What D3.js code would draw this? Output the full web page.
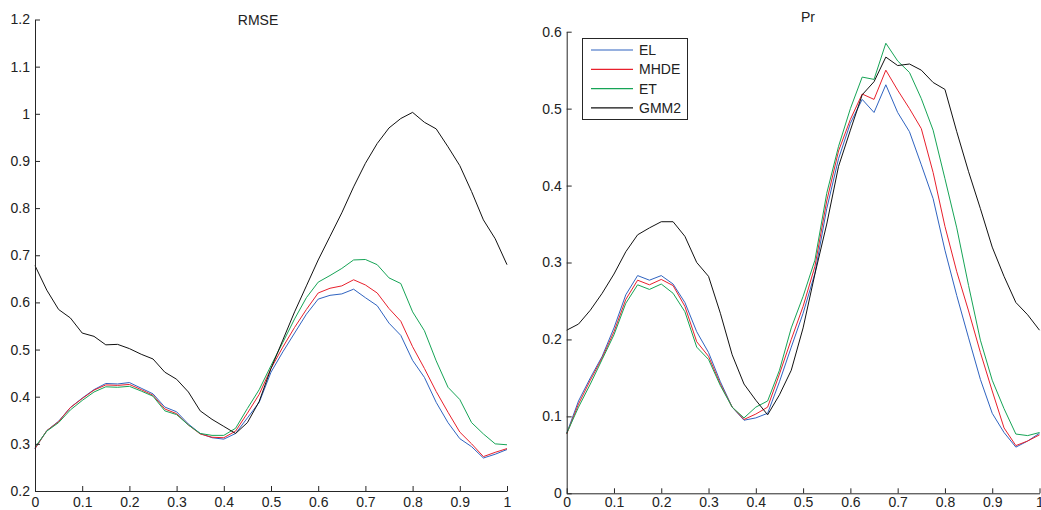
<!DOCTYPE html>
<html>
<head>
<meta charset="utf-8">
<script src="https://cdn.jsdelivr.net/npm/d3@7"></script>
<style>
  body { margin: 0; background: #fff; }
  text { font-family: "Liberation Sans", Arial, sans-serif; }
</style>
</head>
<body>
<svg id="chart" width="1041" height="510"></svg>
<script>
// x grid shared by both panels
const xs = [0, 0.025, 0.05, 0.075, 0.1, 0.125, 0.15, 0.175, 0.2, 0.225, 0.25,
  0.275, 0.3, 0.325, 0.35, 0.375, 0.4, 0.425, 0.45, 0.475, 0.5,
  0.525, 0.55, 0.575, 0.6, 0.625, 0.65, 0.675, 0.7, 0.725, 0.75,
  0.775, 0.8, 0.825, 0.85, 0.875, 0.9, 0.925, 0.95, 0.975, 1];

const seriesNames = ["EL", "MHDE", "ET", "GMM2"];
const seriesColors = ["#2f63c0", "#e8202c", "#16a456", "#111111"];

// RMSE panel
const rmseEL = [0.29, 0.328, 0.348, 0.377, 0.397, 0.415, 0.428, 0.427, 0.43, 0.418, 0.406,
  0.378, 0.368, 0.342, 0.322, 0.313, 0.31, 0.322, 0.355, 0.388, 0.452,
  0.495, 0.535, 0.575, 0.607, 0.615, 0.618, 0.628, 0.61, 0.593, 0.556,
  0.53, 0.477, 0.441, 0.388, 0.345, 0.311, 0.294, 0.27, 0.278, 0.288];
const rmseMHDE = [0.29, 0.328, 0.347, 0.377, 0.396, 0.414, 0.425, 0.424, 0.426, 0.415, 0.403,
  0.374, 0.364, 0.34, 0.321, 0.314, 0.313, 0.327, 0.365, 0.405, 0.46,
  0.505, 0.547, 0.585, 0.62, 0.63, 0.635, 0.648, 0.637, 0.62, 0.587,
  0.56, 0.506, 0.46, 0.411, 0.367, 0.325, 0.3, 0.273, 0.282, 0.29];
const rmseET = [0.293, 0.327, 0.345, 0.372, 0.392, 0.41, 0.421, 0.42, 0.422, 0.412, 0.401,
  0.37, 0.362, 0.34, 0.322, 0.318, 0.318, 0.333, 0.375, 0.415, 0.466,
  0.515, 0.565, 0.61, 0.643, 0.657, 0.672, 0.69, 0.691, 0.68, 0.652,
  0.64, 0.58, 0.54, 0.476, 0.42, 0.394, 0.345, 0.321, 0.3, 0.298];
const rmseGMM2 = [0.678, 0.626, 0.585, 0.567, 0.535, 0.528, 0.51, 0.511, 0.502, 0.49, 0.48,
  0.452, 0.437, 0.41, 0.37, 0.352, 0.337, 0.322, 0.345, 0.39, 0.46,
  0.52, 0.58, 0.635, 0.69, 0.74, 0.79, 0.845, 0.895, 0.937, 0.97,
  0.99, 1.003, 0.982, 0.968, 0.93, 0.89, 0.835, 0.775, 0.735, 0.68];

// Pr panel
const prEL = [0.078, 0.12, 0.15, 0.178, 0.215, 0.258, 0.283, 0.277, 0.283, 0.272, 0.248,
  0.21, 0.183, 0.145, 0.112, 0.095, 0.098, 0.104, 0.145, 0.19, 0.234,
  0.286, 0.37, 0.435, 0.481, 0.512, 0.495, 0.531, 0.495, 0.47, 0.427,
  0.383, 0.316, 0.257, 0.202, 0.148, 0.104, 0.079, 0.06, 0.068, 0.078];
const prMHDE = [0.077, 0.116, 0.147, 0.176, 0.21, 0.252, 0.277, 0.271, 0.278, 0.27, 0.243,
  0.197, 0.178, 0.142, 0.112, 0.096, 0.103, 0.112, 0.155, 0.2, 0.243,
  0.295, 0.38, 0.445, 0.486, 0.519, 0.512, 0.55, 0.524, 0.5, 0.474,
  0.417, 0.347, 0.288, 0.237, 0.183, 0.133, 0.085, 0.062, 0.068, 0.076];
const prET = [0.078, 0.112, 0.142, 0.174, 0.206, 0.247, 0.271, 0.265, 0.272, 0.26, 0.236,
  0.19, 0.174, 0.14, 0.112, 0.098, 0.112, 0.12, 0.16, 0.215, 0.256,
  0.303, 0.39, 0.451, 0.5, 0.541, 0.538, 0.585, 0.562, 0.547, 0.513,
  0.472, 0.409, 0.345, 0.27, 0.199, 0.147, 0.11, 0.077, 0.075, 0.079];
const prGMM2 = [0.212, 0.22, 0.238, 0.26, 0.285, 0.314, 0.336, 0.345, 0.353, 0.353, 0.334,
  0.3, 0.282, 0.234, 0.18, 0.142, 0.121, 0.102, 0.128, 0.16, 0.215,
  0.285, 0.35, 0.425, 0.472, 0.518, 0.535, 0.567, 0.556, 0.558, 0.55,
  0.534, 0.525, 0.47, 0.418, 0.37, 0.32, 0.282, 0.248, 0.232, 0.212];

const xTicks = [0, 0.1, 0.2, 0.3, 0.4, 0.5, 0.6, 0.7, 0.8, 0.9, 1];
const rmseTicks = [0.2, 0.3, 0.4, 0.5, 0.6, 0.7, 0.8, 0.9, 1, 1.1, 1.2];
const prTicks = [0, 0.1, 0.2, 0.3, 0.4, 0.5, 0.6];

const svg = d3.select("#chart");
const axisColor = "#262626";

function panel(opts) {
  const x = d3.scaleLinear().domain([0, 1]).range(opts.xRange);
  const y = d3.scaleLinear().domain(opts.yDomain).range(opts.yRange);
  const g = svg.append("g");

  const line = d3.line()
    .x((d, i) => x(xs[i]))
    .y(d => y(d));

  g.selectAll("path.series")
    .data(opts.series)
    .join("path")
    .attr("class", "series")
    .attr("fill", "none")
    .attr("stroke", (d, i) => seriesColors[i])
    .attr("stroke-width", 1)
    .attr("d", d => line(d));

  const fmt = d => String(d);

  const xAxis = g.append("g")
    .attr("transform", `translate(0,${opts.yRange[0]})`)
    .call(d3.axisBottom(x).tickValues(xTicks).tickFormat(fmt)
      .tickSizeInner(-5).tickSizeOuter(0).tickPadding(opts.xPad));

  const yAxis = g.append("g")
    .attr("transform", `translate(${opts.xRange[0]},0)`)
    .call(d3.axisLeft(y).tickValues(opts.yTicks).tickFormat(fmt)
      .tickSizeInner(-5).tickSizeOuter(0).tickPadding(5));

  [xAxis, yAxis].forEach(a => {
    a.selectAll("path, line").attr("stroke", axisColor);
    a.selectAll("text").attr("fill", "#222").style("font-size", "14px");
  });

  g.append("text")
    .attr("x", opts.titleX)
    .attr("y", opts.titleY)
    .attr("text-anchor", "middle")
    .attr("fill", "#222")
    .style("font-size", "14px")
    .text(opts.title);
}

panel({
  xRange: [35, 507], yDomain: [0.2, 1.2], yRange: [491, 19.5], xPad: 6,
  yTicks: rmseTicks, series: [rmseEL, rmseMHDE, rmseET, rmseGMM2],
  title: "RMSE", titleX: 258, titleY: 25
});

panel({
  xRange: [566.7, 1039.5], yDomain: [0, 0.6], yRange: [493.3, 31.7], xPad: 4,
  yTicks: prTicks, series: [prEL, prMHDE, prET, prGMM2],
  title: "Pr", titleX: 808, titleY: 22
});

// legend (right panel)
const legend = svg.append("g").attr("transform", "translate(582.5,38.5)");
legend.append("rect")
  .attr("width", 105).attr("height", 81)
  .attr("fill", "#fff").attr("stroke", axisColor);

const items = legend.selectAll("g.item")
  .data(seriesNames)
  .join("g")
  .attr("class", "item")
  .attr("transform", (d, i) => `translate(0,${11.5 + i * 19.3})`);

items.append("line")
  .attr("x1", 8.5).attr("x2", 50.5)
  .attr("stroke", (d, i) => seriesColors[i])
  .attr("stroke-width", 1.2);

items.append("text")
  .attr("x", 56.5).attr("dy", "0.35em")
  .attr("fill", "#222")
  .style("font-size", "14px")
  .text(d => d);
</script>
</body>
</html>
